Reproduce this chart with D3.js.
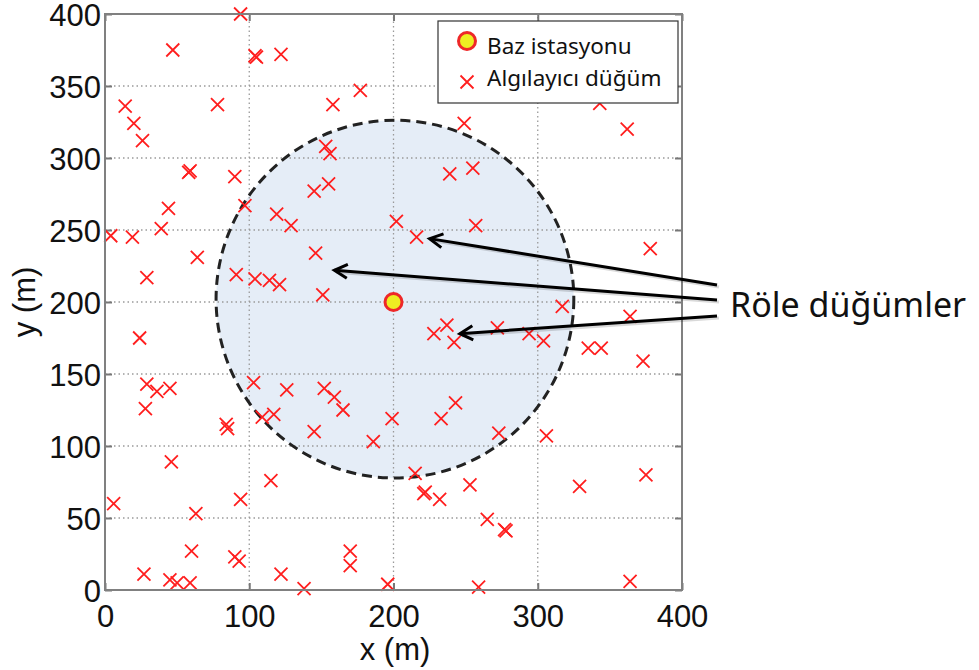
<!DOCTYPE html>
<html lang="tr">
<head>
<meta charset="UTF-8">
<script src="https://cdnjs.cloudflare.com/ajax/libs/d3/7.8.5/d3.min.js"></script>
<style>
    body{margin:0;background:#fff;}
    svg{display:block;}
</style>
<title>Röle düğümler</title>
</head>
<body>
<svg id="chart"></svg>
<script>
    // sensor nodes (x, y in metres)
    var nodes = [
        [94,400],[47,375],[104,371],[105,370],[122,372],[14,336],[78,337],[20,324],[26,312],
        [58,290],[59,291],[90,287],[177,347],[158,337],[153,308],[156,303],[249,324],[239,289],
        [255,293],[145,277],[155,282],[343,338],[362,320],[44,265],[4,246],[19,245],[39,251],
        [64,231],[29,217],[24,175],[97,267],[119,261],[129,253],[91,219],[104,216],[114,215],
        [121,212],[202,256],[216,245],[257,253],[146,234],[151,205],[228,178],[237,184],[242,172],
        [378,237],[317,197],[364,190],[272,182],[294,178],[304,173],[335,168],[344,168],[373,159],
        [29,143],[36,138],[45,140],[28,126],[84,115],[85,112],[103,144],[126,139],[109,120],
        [117,122],[46,89],[115,76],[6,60],[94,63],[63,53],[60,27],[90,23],[93,20],[27,11],
        [45,7],[50,5],[59,5],[122,11],[138,1],[152,140],[159,134],[165,125],[145,110],[186,103],
        [199,119],[233,119],[243,130],[215,81],[221,67],[222,68],[232,63],[253,73],[265,49],
        [170,27],[170,17],[196,4],[259,2],[273,109],[306,107],[329,72],[375,80],[278,41],[277,42],
        [364,6]
    ];
    var baseStation = [200,200];
    var rangeCenter = [201,202];
    var rangeRadius = 124;
    var xTicks = [0,100,200,300,400];
    var yTicks = [0,50,100,150,200,250,300,350,400];
    var legendLabels = ["Baz istasyonu","Algılayıcı düğüm"];
    var relayLabel = "Röle düğümler";
    var relayTips = [[225,244],[159,222],[246,178]];

    var width=979,height=670;
    var svg = d3.select("#chart").attr("width",width).attr("height",height);

    var x = d3.scaleLinear().domain([0,400]).range([105,682]);
    var y = d3.scaleLinear().domain([0,400]).range([590,14]);

    // range circle fill
    svg.append("circle")
        .attr("cx",x(rangeCenter[0]))
        .attr("cy",y(rangeCenter[1]))
        .attr("r",x(rangeRadius)-x(0))
        .attr("fill","#e5edf7");

    // grid
    var grid = svg.append("g").attr("stroke","#9a9a9a").attr("stroke-width",1.3)
        .attr("stroke-dasharray","1.5,3");
    xTicks.slice(1,-1).forEach(function(t){
        grid.append("line").attr("x1",x(t)).attr("x2",x(t)).attr("y1",y(0)).attr("y2",y(400));
    });
    yTicks.slice(1,-1).forEach(function(t){
        grid.append("line").attr("x1",x(0)).attr("x2",x(400)).attr("y1",y(t)).attr("y2",y(t));
    });

    // dashed range border
    svg.append("circle")
        .attr("cx",x(rangeCenter[0]))
        .attr("cy",y(rangeCenter[1]))
        .attr("r",x(rangeRadius)-x(0))
        .attr("fill","none")
        .attr("stroke","#222")
        .attr("stroke-width",3)
        .attr("stroke-dasharray","10,6");

    // axes
    var tickFont = "'Liberation Sans', Arial, sans-serif";
    var xAxis = d3.axisBottom(x).tickValues(xTicks).tickSize(-7).tickPadding(15);
    var yAxis = d3.axisLeft(y).tickValues(yTicks).tickSize(-7).tickPadding(4);
    var gx = svg.append("g").attr("transform","translate(0,"+y(0)+")").call(xAxis);
    var gy = svg.append("g").attr("transform","translate("+x(0)+",0)").call(yAxis);
    svg.append("g").attr("transform","translate(0,"+y(400)+")")
        .call(d3.axisTop(x).tickValues(xTicks).tickSize(-7).tickFormat(""));
    svg.append("g").attr("transform","translate("+x(400)+",0)")
        .call(d3.axisRight(y).tickValues(yTicks).tickSize(-7).tickFormat(""));
    svg.selectAll(".domain").remove();
    svg.selectAll(".tick line").attr("stroke","#777").attr("stroke-width",2);
    [gx,gy].forEach(function(g){
        g.selectAll("text").attr("font-family",tickFont).attr("font-size",31).attr("fill","#111");
    });
    gx.selectAll("text").attr("dy","0.71em");
    gy.selectAll("text").attr("dy","0.36em");

    // markers
    var s = 6.5;
    svg.append("g").selectAll("path").data(nodes).enter().append("path")
        .attr("d",function(d){
            var cx=x(d[0]),cy=y(d[1]);
            return "M"+(cx-s)+","+(cy-s)+"L"+(cx+s)+","+(cy+s)+"M"+(cx-s)+","+(cy+s)+"L"+(cx+s)+","+(cy-s);
        })
        .attr("stroke","#ff1e1e")
        .attr("stroke-width",1.8)
        .attr("fill","none");

    svg.append("circle")
        .attr("cx",x(baseStation[0])).attr("cy",y(baseStation[1])).attr("r",8.5)
        .attr("fill","#eeee22").attr("stroke","#ee2828").attr("stroke-width",3);

    // frame
    svg.append("rect")
        .attr("x",x(0)).attr("y",y(400))
        .attr("width",x(400)-x(0)).attr("height",y(0)-y(400))
        .attr("fill","none").attr("stroke","#808080").attr("stroke-width",2);

    // axis labels
    svg.append("text").attr("x",395).attr("y",660).attr("text-anchor","middle")
        .attr("font-family",tickFont).attr("font-size",31).attr("fill","#111").text("x (m)");
    svg.append("text").attr("transform","translate(35,302) rotate(-90)").attr("text-anchor","middle")
        .attr("font-family",tickFont).attr("font-size",31).attr("fill","#111").text("y (m)");

    // legend
    var legend = svg.append("g");
    legend.append("rect").attr("x",438).attr("y",21).attr("width",240).attr("height",82)
        .attr("fill","#fff").attr("stroke","#333").attr("stroke-width",1.2);
    legend.append("circle").attr("cx",467).attr("cy",41).attr("r",8.5)
        .attr("fill","#eeee22").attr("stroke","#ee2828").attr("stroke-width",3);
    legend.append("path")
        .attr("d","M"+(467-s)+","+(82-s)+"L"+(467+s)+","+(82+s)+"M"+(467-s)+","+(82+s)+"L"+(467+s)+","+(82-s))
        .attr("stroke","#ff1e1e").attr("stroke-width",1.8);
    legend.selectAll("text.lab").data(legendLabels).enter().append("text")
        .attr("class","lab")
        .attr("x",487)
        .attr("y",function(d,i){return 54+i*32;})
        .attr("font-family","'Noto Sans', sans-serif")
        .attr("font-size",22.5)
        .attr("fill","#111")
        .text(function(d){return d;});

    // relay annotation
    var defs = svg.append("defs");
    defs.append("marker").attr("id","head").attr("markerUnits","userSpaceOnUse")
        .attr("viewBox","-16 -10 20 20").attr("refX",0).attr("refY",0)
        .attr("markerWidth",20).attr("markerHeight",20).attr("orient","auto")
        .append("path").attr("d","M-13,-7L0,0L-13,7").attr("fill","none")
        .attr("stroke","#000").attr("stroke-width",3);
    var starts = [[717,285],[717,300],[717,316]];
    var arrows = svg.append("g");
    relayTips.forEach(function(t,i){
        arrows.append("line")
            .attr("x1",starts[i][0]+2).attr("y1",starts[i][1]+2)
            .attr("x2",x(t[0])+2).attr("y2",y(t[1])+2)
            .attr("stroke","#000").attr("stroke-opacity",0.15).attr("stroke-width",3);
    });
    relayTips.forEach(function(t,i){
        arrows.append("line")
            .attr("x1",starts[i][0]).attr("y1",starts[i][1])
            .attr("x2",x(t[0])).attr("y2",y(t[1]))
            .attr("stroke","#000").attr("stroke-width",3)
            .attr("marker-end","url(#head)");
    });
    svg.append("text").attr("x",730).attr("y",317)
        .attr("font-family","'Noto Sans', sans-serif").attr("font-size",34)
        .attr("fill","#111").text(relayLabel);
</script>
</body>
</html>
